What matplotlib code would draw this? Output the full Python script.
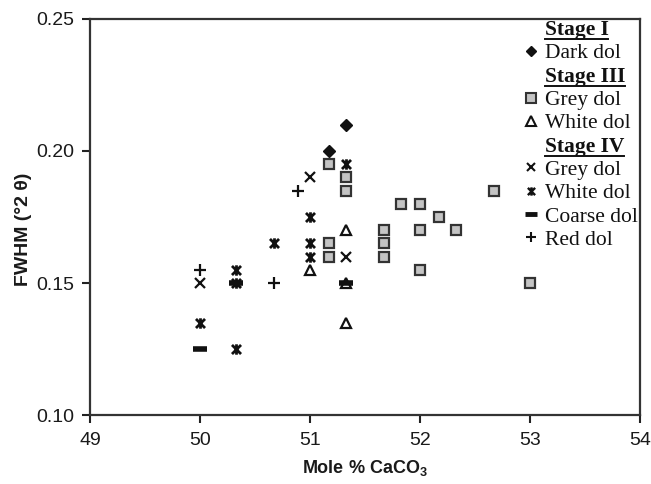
import matplotlib
matplotlib.use('Agg')
import matplotlib.pyplot as plt
from matplotlib.lines import Line2D
from matplotlib.path import Path

# FWHM vs. mole % CaCO3
dark1_x = [51.17, 51.33]
dark1_y = [0.200, 0.210]

grey3_x = [51.17, 51.33, 51.33, 51.17, 51.17, 51.67, 51.67, 51.67,
           51.83, 52.00, 52.00, 52.00, 52.17, 52.33, 52.67, 53.00]
grey3_y = [0.195, 0.190, 0.185, 0.165, 0.160, 0.170, 0.165, 0.160,
           0.180, 0.180, 0.170, 0.155, 0.175, 0.170, 0.185, 0.150]

white3_x = [51.33, 51.00, 51.33, 51.33]
white3_y = [0.170, 0.155, 0.135, 0.150]

grey4_x = [50.00, 51.00, 51.33]
grey4_y = [0.150, 0.190, 0.160]

white4_x = [50.00, 50.33, 50.33, 50.33, 50.67, 51.00, 51.00, 51.00, 51.33]
white4_y = [0.135, 0.155, 0.150, 0.125, 0.165, 0.175, 0.165, 0.160, 0.195]

coarse4_x = [50.00, 50.33, 51.33]
coarse4_y = [0.125, 0.150, 0.150]

red4_x = [50.00, 50.67, 50.89]
red4_y = [0.155, 0.150, 0.185]

x_ticks = [49, 50, 51, 52, 53, 54]
y_ticks = [0.10, 0.15, 0.20, 0.25]

plt.rcParams['font.family'] = ['Liberation Sans', 'DejaVu Sans']
plt.rcParams['mathtext.fontset'] = 'custom'
plt.rcParams['mathtext.bf'] = 'Liberation Sans:bold'
plt.rcParams['mathtext.rm'] = 'Liberation Sans:bold'

# Excel-like "star" marker: an x with a vertical bar through it
star = Path([(-1, -1), (1, 1), (-1, 1), (1, -1), (0, -1.15), (0, 1.15)],
            [Path.MOVETO, Path.LINETO] * 3)

fig = plt.figure(figsize=(6.51, 4.84), dpi=100)
ax = fig.add_axes([90 / 651, 1 - 415 / 484, 550 / 651, 396 / 484])

ink = '#111111'
ax.plot(dark1_x, dark1_y, 'D', ms=6.5, color=ink, ls='none')
ax.plot(grey3_x, grey3_y, 's', ms=7, mfc='#c4c4c4', mec='#333333', mew=1.6, ls='none')
ax.plot(white3_x, white3_y, '^', ms=7, mfc='white', mec=ink, mew=1.6, ls='none')
ax.plot(coarse4_x, coarse4_y, '_', ms=10, mec=ink, mew=4, ls='none')
ax.plot(grey4_x, grey4_y, 'x', ms=7, mec=ink, mew=1.6, ls='none')
ax.plot(white4_x, white4_y, marker=star, ms=7.5, mec=ink, mew=2.0, ls='none')
ax.plot(red4_x, red4_y, '+', ms=8, mec=ink, mew=1.6, ls='none')

ax.set_xlim(49, 54)
ax.set_ylim(0.10, 0.25)
ax.set_xticks(x_ticks)
ax.set_yticks(y_ticks)
ax.set_xticklabels([str(v) for v in x_ticks])
ax.set_yticklabels([f'{v:.2f}' for v in y_ticks])
ax.tick_params(direction='out', length=6, width=1.5, colors='#222222',
               labelsize=14, labelcolor='#1a1a1a', pad=5)
ax.tick_params(axis='x', pad=6)
for s in ax.spines.values():
    s.set_linewidth(1.6)
    s.set_color('#333333')

ax.set_xlabel('Mole % CaCO$_\\mathbf{3}$', fontsize=13, fontweight='bold',
              labelpad=7, color='#1a1a1a')
ax.set_ylabel('FWHM (°2 θ)', fontsize=14, fontweight='bold', color='#1a1a1a')
ax.yaxis.set_label_coords(-0.105, 0.47)

# legend with stage headers
blank = Line2D([], [], ls='none', marker='none')
handles = [
    blank,
    Line2D([], [], marker='D', ms=5.5, color=ink, ls='none'),
    blank,
    Line2D([], [], marker='s', ms=6.5, mfc='#c4c4c4', mec='#333333', mew=1.5, ls='none'),
    Line2D([], [], marker='^', ms=6.5, mfc='white', mec=ink, mew=1.5, ls='none'),
    blank,
    Line2D([], [], marker='x', ms=6, mec=ink, mew=1.5, ls='none'),
    Line2D([], [], marker=star, ms=6, mec=ink, mew=1.7, ls='none'),
    Line2D([], [], marker='_', ms=8, mec=ink, mew=3.5, ls='none'),
    Line2D([], [], marker='+', ms=7, mec=ink, mew=1.5, ls='none'),
]
labels = ['Stage I', 'Dark dol', 'Stage III', 'Grey dol', 'White dol',
          'Stage IV', 'Grey dol', 'White dol', 'Coarse dol', 'Red dol']
headers = {'Stage I', 'Stage III', 'Stage IV'}

leg = ax.legend(handles, labels, loc='upper left', bbox_to_anchor=(433 / 550, 1.0),
                frameon=False, borderpad=0.05, borderaxespad=0, handlelength=0.65,
                handletextpad=0.3, labelspacing=0.15,
                prop={'family': 'Liberation Serif', 'size': 15.5})
for t in leg.get_texts():
    t.set_color('#111111')
    if t.get_text() in headers:
        t.set_fontweight('bold')

# underline the stage headers
fig.canvas.draw()
renderer = fig.canvas.get_renderer()
inv = fig.transFigure.inverted()
for t in leg.get_texts():
    if t.get_text() in headers:
        bb = t.get_window_extent(renderer)
        (x0, y0), (x1, _) = inv.transform([(bb.x0, bb.y0 + 1), (bb.x1, bb.y0 + 1)])
        fig.add_artist(Line2D([x0, x1], [y0, y0], transform=fig.transFigure,
                              color='#111111', lw=1.4))

fig.savefig('out.png', dpi=100)
